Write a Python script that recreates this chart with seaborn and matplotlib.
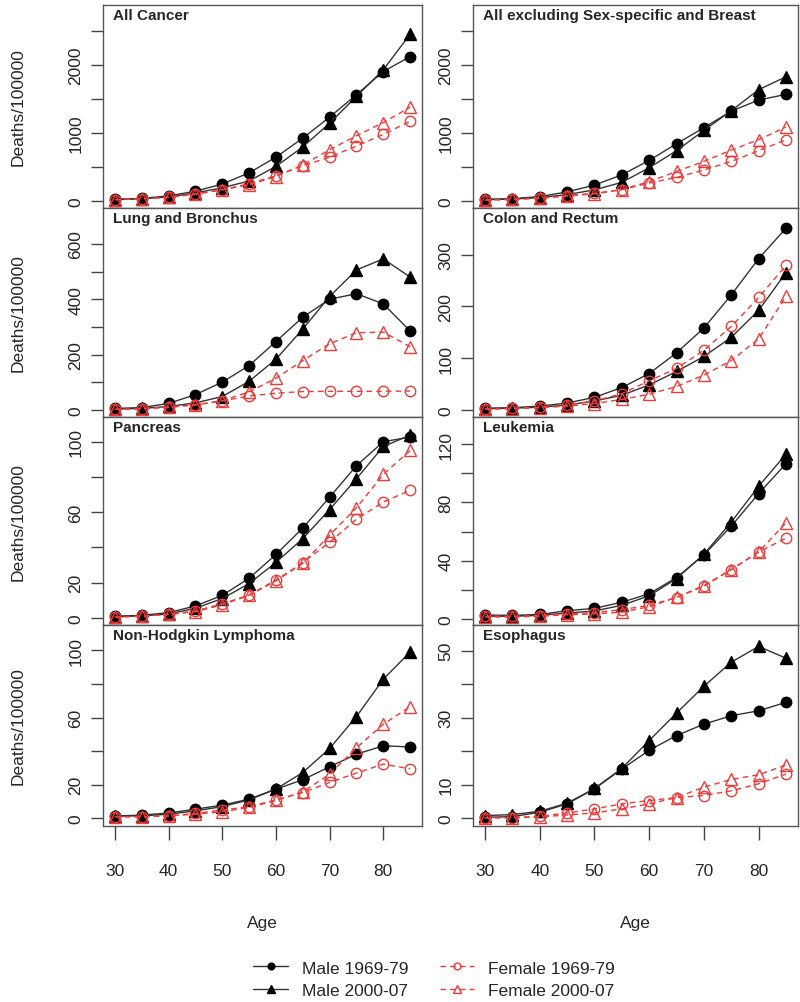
import matplotlib
matplotlib.use("Agg")
import numpy as np
import pandas as pd
import matplotlib.pyplot as plt
import seaborn as sns

# Idades (pontos do eixo x)
ages = [30, 35, 40, 45, 50, 55, 60, 65, 70, 75, 80, 85]
series_names = ["Male 1969-79", "Male 2000-07", "Female 1969-79", "Female 2000-07"]

# All Cancer
all_m69 = [20, 35, 70, 140, 245, 410, 640, 920, 1230, 1560, 1900, 2120]
all_m00 = [15, 30, 55, 115, 190, 290, 505, 790, 1140, 1535, 1925, 2450]
all_f69 = [15, 30, 50, 95, 160, 250, 368, 515, 640, 805, 975, 1170]
all_f00 = [15, 30, 50, 100, 160, 235, 355, 525, 750, 955, 1150, 1375]

# All excluding Sex-specific and Breast
exc_m69 = [20, 30, 60, 130, 230, 380, 593, 838, 1073, 1318, 1480, 1564]
exc_m00 = [15, 25, 45, 90, 160, 270, 485, 735, 1034, 1323, 1632, 1823]
exc_f69 = [10, 20, 40, 75, 110, 162, 260, 343, 451, 578, 735, 897]
exc_f00 = [10, 20, 35, 70, 100, 165, 280, 431, 578, 745, 897, 1083]

# Lung and Bronchus
lung_m69 = [5, 8, 23, 55, 100, 160, 247, 335, 400, 420, 383, 285]
lung_m00 = [3, 5, 12, 25, 48, 103, 183, 292, 410, 506, 546, 480]
lung_f69 = [2, 4, 10, 18, 32, 50, 60, 66, 67, 67, 67, 68]
lung_f00 = [2, 4, 9, 18, 33, 65, 114, 178, 239, 279, 281, 228]

# Colon and Rectum
colon_m69 = [3, 4, 7, 13, 24, 43, 70, 110, 158, 222, 292, 351]
colon_m00 = [2, 3, 5, 9, 17, 28, 48, 74, 103, 140, 192, 265]
colon_f69 = [2, 3, 5, 9, 17, 31, 56, 80, 115, 161, 217, 279]
colon_f00 = [1, 2, 4, 7, 12, 20, 30, 45, 67, 95, 137, 219]

# Pancreas
panc_m69 = [1, 1.5, 3, 6.8, 12.8, 22.5, 36, 51, 68.5, 86.4, 100, 102.6]
panc_m00 = [0.7, 1.2, 2.2, 5.5, 11, 19.5, 31.5, 45, 61.5, 79, 97.3, 103.7]
panc_f69 = [0.5, 1, 2, 4, 8, 13, 21.5, 31.3, 43, 56, 65.8, 72.4]
panc_f00 = [0.5, 1, 2, 3.5, 7.5, 12.8, 21, 31, 47, 62.5, 81.5, 95]

# Leukemia
leuk_m69 = [2.8, 2.6, 3.2, 5.8, 7.4, 11.6, 17.4, 28.5, 44, 63.7, 86, 106.5]
leuk_m00 = [2, 2, 2.6, 4.2, 5.6, 9.5, 16, 27.8, 44.5, 66.5, 91, 113]
leuk_f69 = [2, 2, 2.5, 3.5, 4.5, 6.5, 9.5, 14.8, 22.5, 34, 46, 55.5]
leuk_f00 = [1.5, 1.5, 2, 3, 3.6, 4.8, 8.5, 15, 23, 34, 46, 66]

# Non-Hodgkin Lymphoma
nhl_m69 = [1.4, 2, 3.2, 5.5, 7.9, 11.5, 17.4, 23, 30.7, 38.2, 43.2, 42.5]
nhl_m00 = [1.5, 1.5, 2.5, 4.5, 7, 11, 17.5, 27.3, 41.6, 60.6, 82.8, 99]
nhl_f69 = [1, 1, 1.5, 3, 5, 7, 11, 15.4, 21.4, 27, 32.3, 29.5]
nhl_f00 = [1, 1, 1.5, 2.5, 4, 6.5, 10.7, 15.8, 26.3, 42, 56, 66.5]

# Esophagus
eso_m69 = [0.3, 0.5, 1.8, 4.3, 8.8, 14.7, 20.3, 24.7, 28.1, 30.6, 32.1, 34.6]
eso_m00 = [0.8, 1.1, 2.1, 4.5, 8.9, 14.9, 23.2, 31.4, 39.4, 46.6, 51.3, 47.8]
eso_f69 = [0.1, 0.2, 0.6, 1.6, 2.8, 4.3, 5.3, 6.2, 6.8, 8.2, 10.3, 13.2]
eso_f00 = [0.1, 0.2, 0.4, 1.0, 1.6, 2.8, 4.3, 6.2, 9.3, 11.6, 13.0, 15.9]

# título, séries, ticks do eixo y, rótulos, limites do eixo y
panels = [
    ("All Cancer", [all_m69, all_m00, all_f69, all_f00],
     [0, 500, 1000, 1500, 2000, 2500], ["0", "", "1000", "", "2000", ""], (-107, 2878)),
    ("All excluding Sex-specific and Breast", [exc_m69, exc_m00, exc_f69, exc_f00],
     [0, 500, 1000, 1500, 2000, 2500], ["0", "", "1000", "", "2000", ""], (-107, 2878)),
    ("Lung and Bronchus", [lung_m69, lung_m00, lung_f69, lung_f00],
     [0, 100, 200, 300, 400, 500, 600], ["0", "", "200", "", "400", "", "600"], (-26, 730)),
    ("Colon and Rectum", [colon_m69, colon_m00, colon_f69, colon_f00],
     [0, 100, 200, 300], ["0", "100", "200", "300"], (-14, 390)),
    ("Pancreas", [panc_m69, panc_m00, panc_f69, panc_f00],
     [0, 20, 40, 60, 80, 100], ["0", "20", "", "60", "", "100"], (-4, 114)),
    ("Leukemia", [leuk_m69, leuk_m00, leuk_f69, leuk_f00],
     [0, 20, 40, 60, 80, 100, 120], ["0", "", "40", "", "80", "", "120"], (-4, 138.5)),
    ("Non-Hodgkin Lymphoma", [nhl_m69, nhl_m00, nhl_f69, nhl_f00],
     [0, 20, 40, 60, 80, 100], ["0", "20", "", "60", "", "100"], (-4.5, 115)),
    ("Esophagus", [eso_m69, eso_m00, eso_f69, eso_f00],
     [0, 10, 20, 30, 40, 50], ["0", "10", "", "30", "", "50"], (-2.3, 57.7)),
]

RED = "#ee3b3b"
styles = {
    "Male 1969-79": dict(color="#333333", marker="o", linestyle="-", markersize=7.5,
                         markerfacecolor="black", markeredgecolor="black"),
    "Male 2000-07": dict(color="#333333", marker="^", linestyle="-", markersize=8.5,
                         markerfacecolor="black", markeredgecolor="black"),
    "Female 1969-79": dict(color=RED, marker="o", linestyle=(0, (4, 3)), markersize=7.5,
                           markerfacecolor="none", markeredgecolor=RED),
    "Female 2000-07": dict(color=RED, marker="^", linestyle=(0, (4, 3)), markersize=8.5,
                           markerfacecolor="none", markeredgecolor=RED),
}

sns.set_style("white")
plt.rcParams["font.family"] = ["Liberation Sans", "DejaVu Sans"]

W, H = 800, 1003
fig = plt.figure(figsize=(W / 100, H / 100), dpi=100)

col_x = [(103, 422), (473, 798)]
row_y = [(6, 209), (209, 418), (418, 626), (626, 827)]

axes = []
for i, (title, vals, yticks, ylabels, ylim) in enumerate(panels):
    r, c = divmod(i, 2)
    x0, x1 = col_x[c]
    y0, y1 = row_y[r]
    ax = fig.add_axes([x0 / W, 1 - y1 / H, (x1 - x0) / W, (y1 - y0) / H])
    axes.append(ax)

    df = pd.DataFrame({
        "age": ages * 4,
        "rate": np.concatenate(vals),
        "series": np.repeat(series_names, len(ages)),
    })
    for name in series_names:
        sub = df[df["series"] == name]
        sns.lineplot(data=sub, x="age", y="rate", ax=ax, label=name,
                     linewidth=1.0, markeredgewidth=1.0, legend=False,
                     **styles[name])

    ax.set_yticks(yticks)
    ax.set_yticklabels(ylabels, rotation=90, va="center", fontsize=12.5)
    ax.set_ylabel("")
    if r == 3:
        ax.set_xticks([30, 40, 50, 60, 70, 80])
        ax.set_xticklabels(["30", "40", "50", "60", "70", "80"], fontsize=12.5)
        ax.set_xlabel("Age", fontsize=12.5, labelpad=26)
        ax.tick_params(axis="x", direction="out", length=10, width=1, color="#444444", pad=17, bottom=True)
    else:
        ax.set_xticks([])
        ax.set_xlabel("")
    ax.tick_params(axis="y", direction="out", length=9, width=1, color="#444444", pad=5, left=True)

    # limites estilo R (4% de margem no x)
    ax.set_xlim(30 - 0.04 * 55, 85 + 0.04 * 55)
    ax.set_ylim(ylim)

    for sp in ax.spines.values():
        sp.set_color("#555555")
        sp.set_linewidth(1.0)

    ax.text(0.031, 0.985, title, transform=ax.transAxes, ha="left", va="top",
            fontsize=11, fontweight="bold")

    if c == 0:
        fig.text(18 / W, 1 - ((y0 + y1) / 2) / H, "Deaths/100000", rotation=90,
                 ha="center", va="center", fontsize=12.5)

handles, labels = axes[0].get_legend_handles_labels()
fig.legend(handles, labels, ncol=2, loc="center", bbox_to_anchor=(434 / W, 1 - 980 / H),
           frameon=False, fontsize=12.5, handlelength=2.0, handletextpad=0.8,
           columnspacing=1.8, labelspacing=0.4, markerscale=0.65)

fig.savefig("out.png", dpi=100)
